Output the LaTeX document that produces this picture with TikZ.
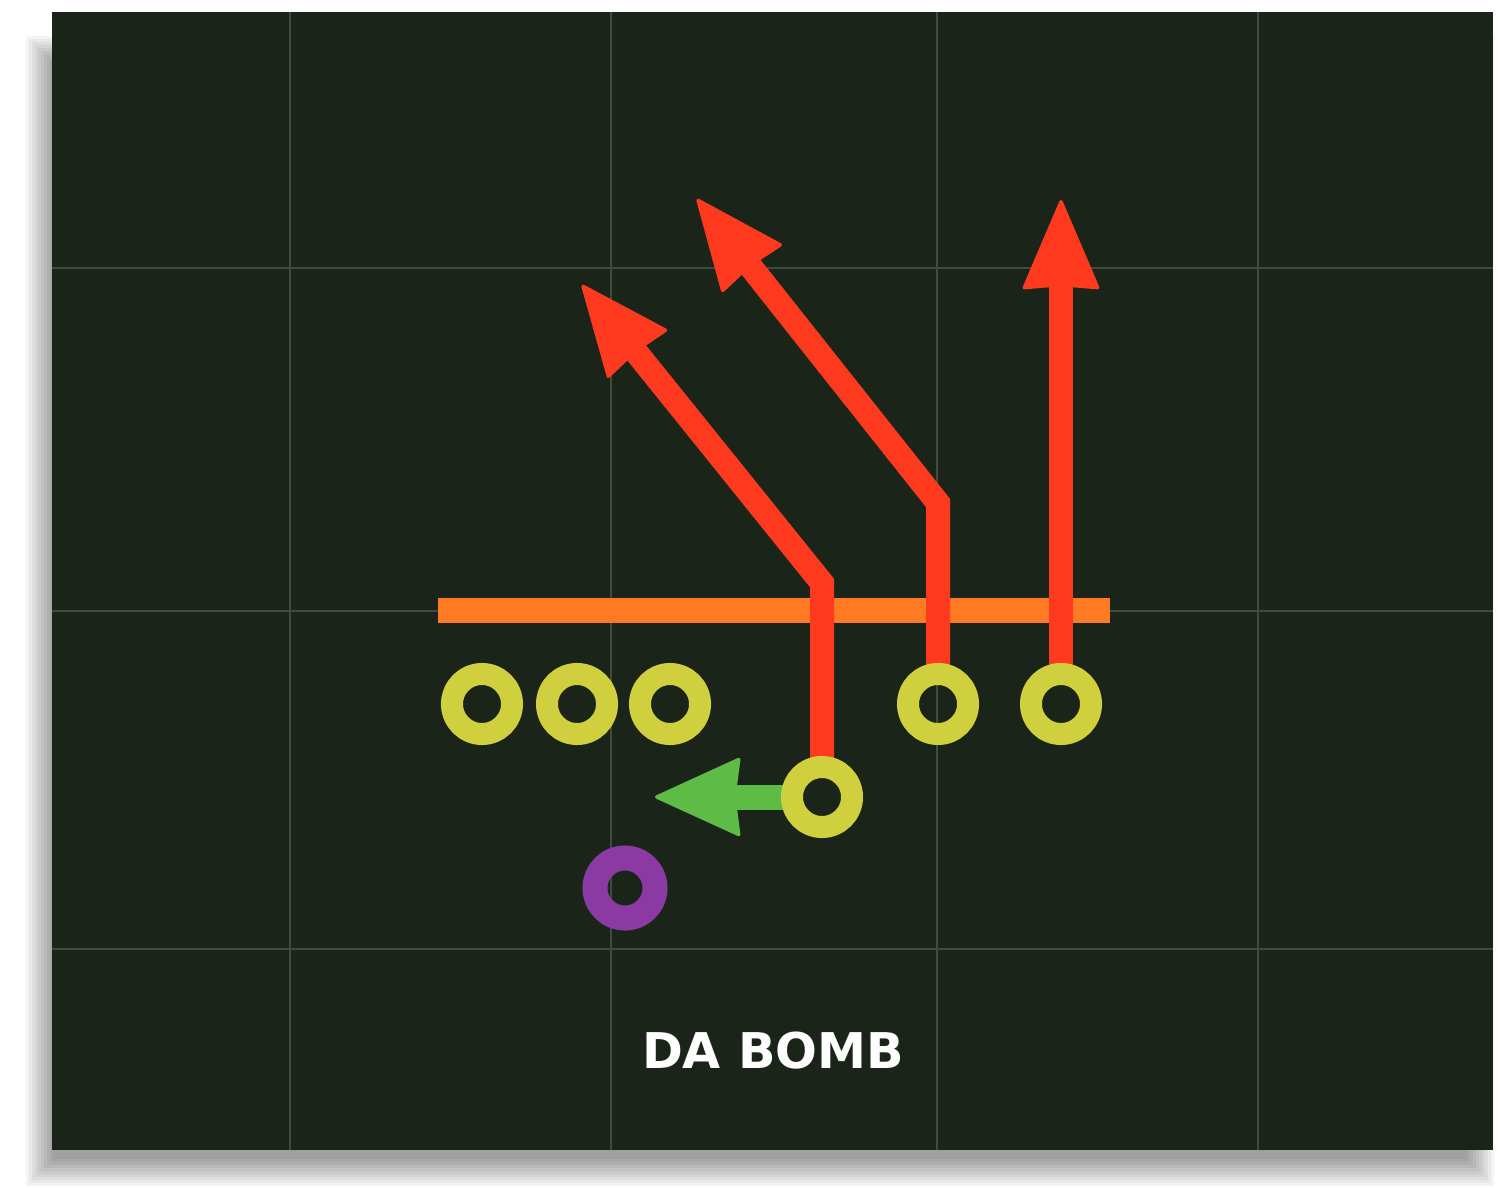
\documentclass[tikz,border=0pt]{standalone}
\usepackage{fontspec}
\newfontfamily\playfont{DejaVu Sans}
\usetikzlibrary{arrows.meta}

\definecolor{fieldgreen}{HTML}{1A2419}
\definecolor{gridgray}{HTML}{3E4B40}
\definecolor{losorange}{HTML}{FF7A22}
\definecolor{routered}{HTML}{FF3A1E}
\definecolor{ringyellow}{HTML}{D0CF3E}
\definecolor{motiongreen}{HTML}{5DBB46}
\definecolor{qbpurple}{HTML}{8B3AA3}

\pgfdeclarelayer{bg}
\pgfsetlayers{bg,main}

\begin{document}
\begin{tikzpicture}[x=0.01cm,y=-0.01cm,
    player/.style={circle, draw=ringyellow, line width=0.22cm, minimum size=0.6cm, inner sep=0pt, outer sep=0.09cm},
    route/.style={draw=routered, line width=0.24cm, line join=miter,
      -{Stealth[length=0.92cm, width=0.78cm, inset=0.03cm, round, line width=1pt]}},
    motion/.style={draw=motiongreen, line width=0.25cm,
      -{Stealth[length=0.88cm, width=0.8cm, inset=0.05cm, round, line width=1pt]}},
    gridline/.style={draw=gridgray, line width=0.6pt}]
  \useasboundingbox (0,0) rectangle (1500,1188);

  %% the offense
  \node[player] (lt) at (482,704) {};
  \node[player] (c) at (577,704) {};
  \node[player] (rg) at (670,704) {};
  \node[player] (slot) at (938,704) {};
  \node[player] (wide) at (1061,704) {};
  \node[player] (back) at (822,797) {};
  \node[player, draw=qbpurple, line width=0.25cm] (qb) at (625,888) {};

  \node[font=\playfont\bfseries\fontsize{14}{16}\selectfont, text=white] (title) at (773,1051) {DA BOMB};

  %% where the routes break and end
  \coordinate (postbend) at (822,583);
  \coordinate (posttip) at (582,285);
  \coordinate (cornerbend) at (938,503);
  \coordinate (cornertip) at (697,199);
  \coordinate (gotip) at (1061,200);
  \coordinate (motiontip) at (655,797);

  \begin{pgfonlayer}{bg}
    \fill[white] (0,0) rectangle (1500,1188);
    %% soft shadow under the board
    \foreach \s in {0,3,...,27}
      \fill[black, opacity=0.045] (26+\s,36+\s) rectangle (1494-\s,1186-\s);
    \fill[fieldgreen] (52,12) rectangle (1493,1150);
    \foreach \gx in {290,611,937,1258}
      \draw[gridline] (\gx,12) -- (\gx,1150);
    \foreach \gy in {268,611,949}
      \draw[gridline] (52,\gy) -- (1493,\gy);

    %% line of scrimmage
    \draw[draw=losorange, line width=0.25cm] (438,610.5) -- (1110,610.5);

    \draw[route] (back.north) -- (postbend) -- (posttip);
    \draw[route] (slot.north) -- (cornerbend) -- (cornertip);
    \draw[route] (wide.north) -- (gotip);
    \draw[motion] (back.west) -- (motiontip);
  \end{pgfonlayer}
\end{tikzpicture}
\end{document}
